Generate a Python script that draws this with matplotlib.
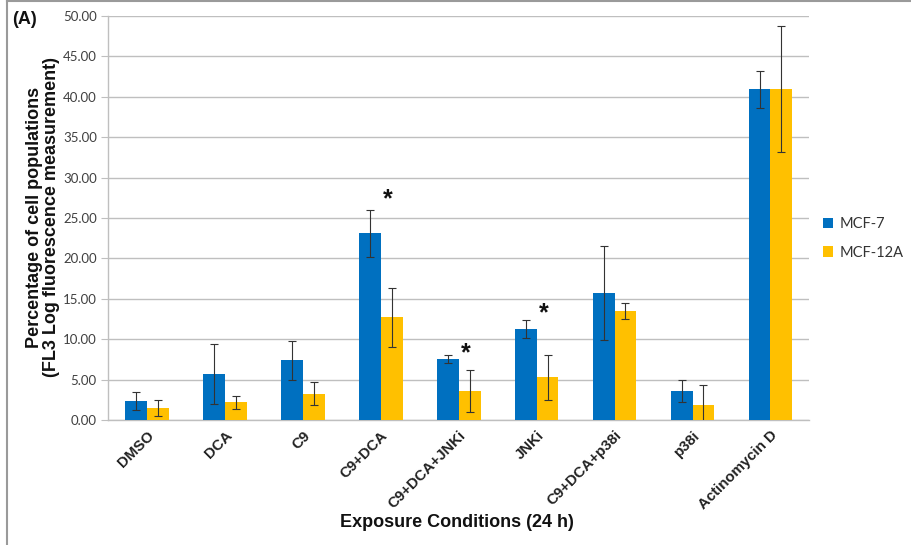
import matplotlib
matplotlib.use("Agg")
import matplotlib.pyplot as plt
import numpy as np

categories = ["DMSO", "DCA", "C9", "C9+DCA", "C9+DCA+JNKi", "JNKi",
              "C9+DCA+p38i", "p38i", "Actinomycin D"]
mcf7 = [2.4, 5.7, 7.4, 23.1, 7.6, 11.3, 15.7, 3.6, 40.9]
mcf7_err = [1.1, 3.7, 2.4, 2.9, 0.5, 1.1, 5.8, 1.4, 2.3]
mcf12a = [1.5, 2.2, 3.3, 12.7, 3.6, 5.3, 13.5, 1.9, 41.0]
mcf12a_err = [1.0, 0.8, 1.4, 3.7, 2.6, 2.8, 1.0, 2.4, 7.8]
series_names = ["MCF-7", "MCF-12A"]
# significance markers: (category index, height)
stars = [(3, 27.3), (4, 8.3), (5, 13.2)]
yticks = np.arange(0, 50.01, 5)

blue = "#0070C0"
yellow = "#FFC000"
bold_font = "Liberation Sans"
light_font = "Lato"

fig = plt.figure(figsize=(9.11, 5.45), dpi=100)
ax = fig.add_axes([0.1185, 0.229, 0.770, 0.742])

x = np.arange(len(categories))
w = 0.28
ax.bar(x - w / 2, mcf7, w, color=blue, label=series_names[0], zorder=3)
ax.bar(x + w / 2, mcf12a, w, color=yellow, label=series_names[1], zorder=3)
ekw = dict(fmt="none", ecolor="#333333", elinewidth=0.8, capsize=3,
           capthick=0.8, zorder=4)
ax.errorbar(x - w / 2, mcf7, yerr=mcf7_err, **ekw)
ax.errorbar(x + w / 2, mcf12a, yerr=mcf12a_err, **ekw)

for i, h in stars:
    ax.text(i + 0.09, h, "*", ha="center", va="center", fontsize=18,
            fontweight="bold", family=bold_font, color="#111111", zorder=5)

ax.set_xlim(-0.5, len(categories) - 0.5)
ax.set_ylim(0, 50)
ax.set_yticks(yticks)
ax.set_yticklabels([f"{v:.2f}" for v in yticks], fontsize=9.5,
                   family=light_font, color="#404040")
ax.yaxis.grid(True, color="#BFBFBF", linewidth=1.0, zorder=0)
ax.tick_params(axis="y", length=5, color="#BFBFBF", pad=3)
ax.set_xticks(x)
ax.set_xticklabels(categories, rotation=45, ha="right", rotation_mode="anchor",
                   fontsize=10.8, fontweight="bold", family=bold_font,
                   color="#222222")
ax.tick_params(axis="x", length=0, pad=6)
for side in ["top", "right"]:
    ax.spines[side].set_visible(False)
for side in ["left", "bottom"]:
    ax.spines[side].set_color("#BFBFBF")
    ax.spines[side].set_linewidth(1.0)

fig.text(0.0475, 0.601,
         "Percentage of cell populations\n(FL3 Log fluorescence measurement)",
         rotation=90, ha="center", va="center", multialignment="center",
         fontsize=13, fontweight="bold", family=bold_font, color="#111111",
         linespacing=1.0)
fig.text(0.502, 0.042, "Exposure Conditions (24 h)", ha="center", va="center",
         fontsize=13, fontweight="bold", family=bold_font, color="#111111")
fig.text(0.013, 0.965, "(A)", ha="left", va="center", fontsize=13,
         fontweight="bold", family=bold_font, color="#111111")

leg = ax.legend(loc="center left", bbox_to_anchor=(1.005, 0.45), frameon=False,
                borderaxespad=0.3,
                prop={"family": light_font, "size": 10.5}, handlelength=0.7,
                handleheight=0.7, handletextpad=0.4, labelspacing=1.0)
for t in leg.get_texts():
    t.set_color("#333333")

# outer frame lines at top and left
fig.add_artist(plt.Line2D([0.0075, 0.0075], [0, 0.998], transform=fig.transFigure,
                          color="#9A9A9A", linewidth=1.5))
fig.add_artist(plt.Line2D([0.0075, 1.0], [0.998, 0.998], transform=fig.transFigure,
                          color="#9A9A9A", linewidth=1.5))

fig.savefig("out.png", dpi=100)
